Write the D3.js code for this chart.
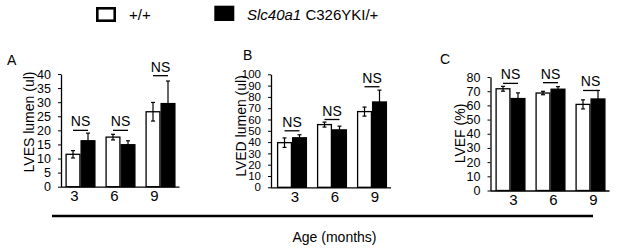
<!DOCTYPE html>
<html><head><meta charset="utf-8">
<script src="https://cdn.jsdelivr.net/npm/d3@7"></script>
<style>
html,body{margin:0;padding:0;background:#fff;}
svg{display:block;font-family:"Liberation Sans",Arial,sans-serif;}
</style></head>
<body><svg id="c" width="617" height="250"></svg>
<script>
const ages = ["3","6","9"];
const seriesNames = ["+/+", "C326YKI/+"];

const lvesWT = [11.5, 17.6, 26.6];
const lvesWTErr = [1.3, 1.0, 3.3];
const lvesKI = [16.3, 14.9, 29.5];
const lvesKIErr = [2.7, 1.4, 8.0];

const lvedWT = [39.5, 55.5, 67.0];
const lvedWTErr = [4.2, 2.2, 4.0];
const lvedKI = [43.8, 50.8, 75.5];
const lvedKIErr = [2.7, 3.3, 10.5];

const lvefWT = [71.7, 68.7, 60.7];
const lvefWTErr = [1.7, 1.2, 3.2];
const lvefKI = [64.8, 71.4, 64.5];
const lvefKIErr = [4.0, 1.8, 6.0];

const nsLevelA = [20, 20, 39.4];
const nsLevelB = [50, 60, 89];
const nsLevelC = [75.5, 76, 70.5];

const ticksA = [0,5,10,15,20,25,30,35,40];
const ticksB = [0,10,20,30,40,50,60,70,80,90,100];
const ticksC = [0,10,20,30,40,50,60,70,80];

const svg = d3.select("#c");

const panels = [
  {letter:"A", title:"LVES lumen (ul)", wt:lvesWT, wtE:lvesWTErr, ki:lvesKI, kiE:lvesKIErr, ns:nsLevelA, ticks:ticksA,
   ax:61, x0:60.5, y0:186.7, y1:74, max:40, lx:7, ly:64.5, tx:28.5, ty:122, labDx:-6, tickFont:12.5},
  {letter:"B", title:"LVED lumen (ul)", wt:lvedWT, wtE:lvedWTErr, ki:lvedKI, kiE:lvedKIErr, ns:nsLevelB, ticks:ticksB,
   ax:271, x0:272, y0:187.3, y1:74.3, max:100, lx:243, ly:59.5, tx:241, ty:126, labDx:3, tickFont:11.5},
  {letter:"C", title:"LVEF (%)", wt:lvefWT, wtE:lvefWTErr, ki:lvefKI, kiE:lvefKIErr, ns:nsLevelC, ticks:ticksC,
   ax:490.5, x0:490.5, y0:190.5, y1:77, max:80, lx:440, ly:64, tx:460, ty:133.5, labDx:3, tickFont:12.5}
];

panels.forEach(p => {
  const g = svg.append("g");
  const x = d3.scaleBand().domain(ages).range([p.x0, p.x0 + 120]).paddingInner(0.25).paddingOuter(0.125);
  const sub = d3.scaleBand().domain(seriesNames).range([0, x.bandwidth()]);
  const y = d3.scaleLinear().domain([0, p.max]).range([p.y0, p.y1]);

  // bars
  const rows = ages.map((a,i) => [
    {age:a, s:seriesNames[0], v:p.wt[i], e:p.wtE[i]},
    {age:a, s:seriesNames[1], v:p.ki[i], e:p.kiE[i]}
  ]).flat();

  // error bars (drawn first for black, white ones behind? draw after bars)
  g.selectAll("rect.bar").data(rows).join("rect")
    .attr("x", d => x(d.age) + sub(d.s) + 0.6)
    .attr("width", sub.bandwidth() - 1.2)
    .attr("y", d => y(d.v))
    .attr("height", d => y(0) - y(d.v))
    .attr("fill", d => d.s === seriesNames[0] ? "#fff" : "#000")
    .attr("stroke", "#000").attr("stroke-width", 1.3);

  const eb = g.selectAll("g.err").data(rows).join("g").attr("stroke", "#000").attr("stroke-width", 1.2);
  eb.append("line")
    .attr("x1", d => x(d.age) + sub(d.s) + sub.bandwidth()/2)
    .attr("x2", d => x(d.age) + sub(d.s) + sub.bandwidth()/2)
    .attr("y1", d => y(d.v - d.e)).attr("y2", d => y(d.v + d.e));
  eb.append("line")
    .attr("x1", d => x(d.age) + sub(d.s) + sub.bandwidth()/2 - 2)
    .attr("x2", d => x(d.age) + sub(d.s) + sub.bandwidth()/2 + 2)
    .attr("y1", d => y(d.v + d.e)).attr("y2", d => y(d.v + d.e));
  eb.append("line")
    .attr("x1", d => x(d.age) + sub(d.s) + sub.bandwidth()/2 - 2)
    .attr("x2", d => x(d.age) + sub(d.s) + sub.bandwidth()/2 + 2)
    .attr("y1", d => y(d.v - d.e)).attr("y2", d => y(d.v - d.e));

  // NS annotations
  ages.forEach((a,i) => {
    const cx = x(a) + x.bandwidth()/2;
    g.append("line").attr("x1", cx - 7.5).attr("x2", cx + 7.5)
      .attr("y1", y(p.ns[i])).attr("y2", y(p.ns[i]))
      .attr("stroke", "#000").attr("stroke-width", 1.3);
    g.append("text").attr("x", cx).attr("y", y(p.ns[i]) - 4)
      .attr("text-anchor", "middle").attr("font-size", 14).text("NS");
  });

  // y axis
  const ya = g.append("g").attr("transform", `translate(${p.ax},0)`)
    .call(d3.axisLeft(y).tickValues(p.ticks).tickSize(3).tickSizeOuter(0).tickPadding(7));
  ya.select(".domain").attr("stroke", "#000").attr("stroke-width", 1.3);
  ya.selectAll(".tick line").attr("stroke", "#000");
  ya.selectAll("text").attr("font-size", p.tickFont).attr("font-family", "Liberation Sans, Arial, sans-serif").attr("fill", "#000");

  // x axis
  const xa = g.append("g").attr("transform", `translate(0,${p.y0})`)
    .call(d3.axisBottom(x).tickSize(0).tickSizeOuter(0).tickPadding(4));
  xa.select(".domain").attr("stroke", "#000").attr("stroke-width", 1.3)
    .attr("d", `M${p.ax},0.5H${p.x0 + 119}`);
  xa.selectAll("text").attr("font-size", 15).attr("dx", p.labDx)
    .attr("font-family", "Liberation Sans, Arial, sans-serif").attr("fill", "#000");

  // y title
  g.append("text").attr("transform", `translate(${p.tx},${p.ty}) rotate(-90)`)
    .attr("text-anchor", "middle").attr("dominant-baseline", "central")
    .attr("font-size", 14).text(p.title);
  // panel letter
  g.append("text").attr("x", p.lx).attr("y", p.ly).attr("font-size", 14).text(p.letter);
});

// bottom age bar
svg.append("line").attr("x1", 52).attr("x2", 593).attr("y1", 216).attr("y2", 216)
  .attr("stroke", "#000").attr("stroke-width", 2.5);
svg.append("text").attr("x", 334.5).attr("y", 242).attr("text-anchor", "middle")
  .attr("font-size", 14).text("Age (months)");

// legend
svg.append("rect").attr("x", 97.3).attr("y", 8.3).attr("width", 17.4).attr("height", 12.4)
  .attr("fill", "#fff").attr("stroke", "#000").attr("stroke-width", 2.6);
svg.append("text").attr("x", 129).attr("y", 20).attr("font-size", 15).text(seriesNames[0]);
svg.append("rect").attr("x", 214.3).attr("y", 5.7).attr("width", 20).attr("height", 15.3).attr("fill", "#000");
const lt = svg.append("text").attr("x", 247).attr("y", 20).attr("font-size", 15);
lt.append("tspan").attr("font-style", "italic").text("Slc40a1");
lt.append("tspan").text(" " + seriesNames[1]);
</script></body></html>
